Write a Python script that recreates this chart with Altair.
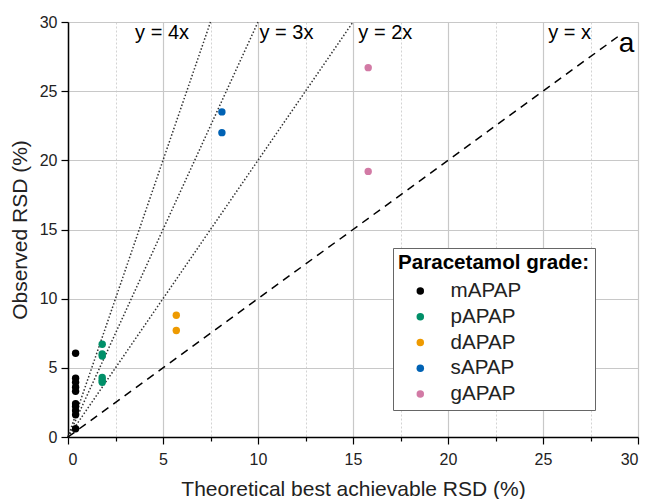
import altair as alt
import pandas as pd

# ---- data ----
m_y = [0.6, 1.6, 1.9, 2.2, 2.4, 3.3, 3.6, 3.95, 4.25, 6.05]
p_y = [6.7, 6.0, 5.85, 4.3, 4.1, 3.95]
d_y = [8.8, 7.7]
s_y = [23.5, 22.0]
g_y = [26.7, 19.2]
grade_x = {"mAPAP": 0.4, "pAPAP": 1.8, "dAPAP": 5.7, "sAPAP": 8.1, "gAPAP": 15.8}
grade_y = {"mAPAP": m_y, "pAPAP": p_y, "dAPAP": d_y, "sAPAP": s_y, "gAPAP": g_y}
grades = ["mAPAP", "pAPAP", "dAPAP", "sAPAP", "gAPAP"]
colors = ["#000000", "#008F68", "#EE9A00", "#0062B4", "#D27AA5"]

slopes = [1, 2, 3, 4]
line_end_x = [29, 15, 10, 7.5]
ann_text = ["y = x", "y = 2x", "y = 3x", "y = 4x"]
ann_x = [26.4, 16.7, 11.5, 4.95]
ann_y = [29.2, 29.2, 29.2, 29.2]

ticks = [i * 2.5 for i in range(13)]

rows = []
for g in grades:
    for yv in grade_y[g]:
        rows.append({"grade": g, "x": grade_x[g], "y": yv})
pts = pd.DataFrame(rows)

lines = []
for s, xe in zip(slopes, line_end_x):
    lines.append({"slope": s, "x": 0, "y": 0, "x2": xe, "y2": s * xe})
ldf = pd.DataFrame(lines)
ann = pd.DataFrame({"t": ann_text, "x": ann_x, "y": ann_y})

FONT = "Liberation Sans"

def axis(title, lp, tp):
    return alt.Axis(
        title=title, values=ticks,
        labelExpr="datum.value % 5 == 0 ? datum.label : ''",
        labelFontSize=16, titleFontSize=21, labelFont=FONT, titleFont=FONT,
        titleFontWeight="normal", labelColor="#222", titleColor="#222",
        domainColor="#000", domainWidth=1.5, tickColor="#000", tickWidth=1.2,
        tickSize={"condition": {"test": "datum.value % 5 != 0", "value": 4}, "value": 7},
        gridColor="#c8c8c8",
        gridDash={"condition": {"test": "datum.value % 5 != 0", "value": [2, 2]}, "value": []},
        gridWidth={"condition": {"test": "datum.value % 5 != 0", "value": 0.8}, "value": 1.2},
        labelPadding=lp, titlePadding=tp, titleLimit=500,
    )

xs = alt.Scale(domain=[0, 30], nice=False)
ys = alt.Scale(domain=[0, 30], nice=False)

points = alt.Chart(pts).mark_circle(size=55, opacity=1).encode(
    x=alt.X("x:Q", scale=xs, axis=axis("Theoretical best achievable RSD (%)", 7, 11)),
    y=alt.Y("y:Q", scale=ys, axis=axis("Observed RSD (%)", 4, 9)),
    color=alt.Color("grade:N", scale=alt.Scale(domain=grades, range=colors),
                    legend=alt.Legend(
                        title="Paracetamol grade:", orient="none", legendX=325, legendY=226,
                        titleFontSize=20.6, titleFont=FONT, titleFontWeight="bold", titleColor="#000",
                        labelFontSize=20.6, labelFont=FONT, labelColor="#222",
                        symbolType="circle", symbolSize=56, symbolStrokeWidth=0,
                        padding=5, strokeColor="#666", fillColor="white",
                        rowPadding=4.8, labelOffset=20, symbolOffset=12, titlePadding=7,
                        labelLimit=200, titleLimit=400)),
)

dashed = alt.Chart(ldf[ldf.slope == 1]).mark_rule(color="#000", strokeWidth=1.5, strokeDash=[8, 6]).encode(
    x="x:Q", y="y:Q", x2="x2:Q", y2="y2:Q")
dotted = alt.Chart(ldf[ldf.slope > 1]).mark_rule(color="#333", strokeWidth=1.5, strokeDash=[1.5, 2]).encode(
    x="x:Q", y="y:Q", x2="x2:Q", y2="y2:Q")

labels = alt.Chart(ann).mark_text(fontSize=20, font=FONT, color="#000", align="center", baseline="middle").encode(
    x="x:Q", y="y:Q", text="t:N")
a_label = alt.Chart(pd.DataFrame({"t": ["a"], "x": [29.4], "y": [28.4]})).mark_text(
    fontSize=28, font=FONT, color="#000", align="center", baseline="middle").encode(
    x="x:Q", y="y:Q", text="t:N")

chart = alt.layer(dotted, dashed, points, labels, a_label).properties(
    width=570, height=415,
    autosize=alt.AutoSizeParams(type="none"),
    padding={"left": 60, "top": 14, "right": 3, "bottom": 62},
).configure_view(stroke="#000", strokeWidth=1.5).configure(background="white")

chart.save("out.html", embed_options={"renderer": "svg", "actions": False})
